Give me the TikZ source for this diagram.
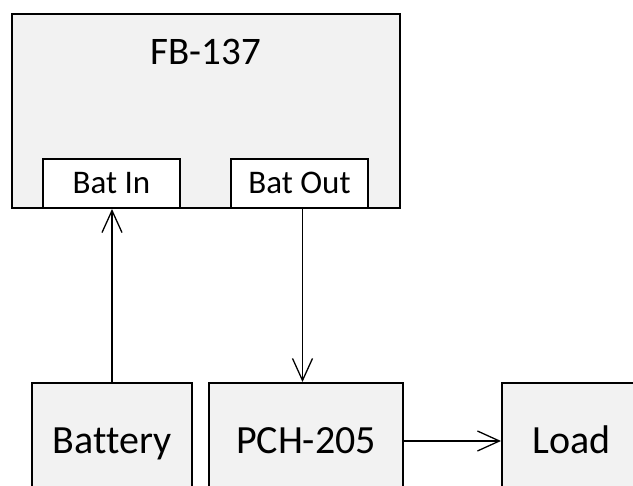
\documentclass[tikz,border=0pt]{standalone}
\usepackage{fontspec}
\setmainfont{Carlito}[Ligatures=NoCommon]
\usetikzlibrary{arrows.meta, positioning}
\definecolor{boxgray}{HTML}{F2F2F2}

\begin{document}
\begin{tikzpicture}[x=1pt, y=-1pt,
  blk/.style  = {draw=black, line width=2pt, fill=boxgray, inner sep=0pt},
  port/.style = {draw=black, line width=2pt, fill=white, inner sep=0pt,
                 minimum width=137pt, minimum height=49pt,
                 text height=21pt, text depth=0pt,
                 font=\fontsize{33}{36}\selectfont},
  unit/.style = {blk, minimum height=116pt, text height=26pt, text depth=0pt,
                 font=\fontsize{40}{44}\selectfont},
  arr/.style  = {-{Straight Barb[length=22pt, width=20pt]}, line width=1.3pt}
]
\clip (0,0) rectangle (633,486);
\node[blk, minimum width=388pt, minimum height=194pt] (fb) at (206,111) {};
\node[below=26pt of fb.north, inner sep=0pt, text height=25pt, text depth=0pt,
      font=\fontsize{39}{42}\selectfont] (fbname) {FB-137};
\node[port, anchor=south west] (batin) at ([xshift=31pt]fb.south west) {Bat In};
\node[port, right=49pt of batin] (batout) {Bat Out};

\node[unit, minimum width=160pt, anchor=north west] (batt) at (31,382) {Battery};
\node[unit, minimum width=194pt, right=15pt of batt] (pch) {PCH-205};
\node[unit, minimum width=140pt, right=97pt of pch] (load) {Load};

\draw[arr] (batt.north) -- (batt.north |- batin.south);
\draw[arr] ([xshift=3pt]batout.south) -- ([xshift=3pt]batout.south |- pch.north);
\draw[arr] (pch) -- (load);
\end{tikzpicture}
\end{document}
